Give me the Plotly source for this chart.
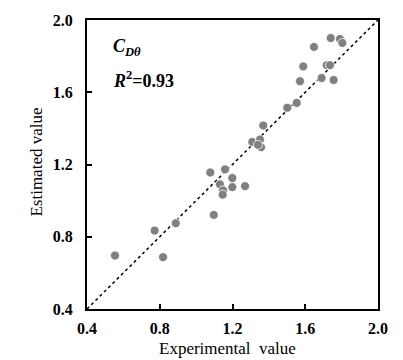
import plotly.graph_objects as go

experimental = [1.740, 1.791, 1.804, 1.648, 1.589, 1.718, 1.736, 1.690, 1.756, 1.571,
                1.553, 1.501, 1.369, 1.309, 1.351, 1.357, 1.340, 1.078, 1.159, 1.199,
                1.131, 1.199, 1.269, 1.148, 1.146, 1.097, 0.888, 0.772, 0.554, 0.818]
estimated = [1.900, 1.895, 1.873, 1.851, 1.743, 1.750, 1.750, 1.679, 1.668, 1.661,
             1.541, 1.514, 1.416, 1.325, 1.338, 1.296, 1.309, 1.156, 1.173, 1.125,
             1.090, 1.075, 1.080, 1.057, 1.033, 0.921, 0.875, 0.834, 0.696, 0.687]
line_xy = [0.4, 2.0]
tick_vals = [0.4, 0.8, 1.2, 1.6, 2.0]

fig = go.Figure()
fig.add_trace(go.Scatter(x=line_xy, y=line_xy, mode="lines",
                         line=dict(color="black", width=1.5, dash="dot"),
                         showlegend=False, hoverinfo="skip"))
fig.add_trace(go.Scatter(x=experimental, y=estimated, mode="markers",
                         marker=dict(size=9, color="#808080",
                                     line=dict(color="white", width=0.8)),
                         showlegend=False))

serif = "Liberation Serif"
axis_common = dict(range=[0.4, 2.0], tickvals=tick_vals,
                   ticktext=["<b>%.1f</b>" % v for v in tick_vals],
                   showgrid=False, zeroline=False, showline=True, mirror=True,
                   linecolor="black", linewidth=2, ticks="inside", ticklen=5,
                   tickwidth=1.5, tickcolor="black",
                   tickfont=dict(family=serif, size=16, color="black"))

fig.update_layout(
    width=403, height=360,
    margin=dict(l=87, r=25, t=15, b=51),
    plot_bgcolor="white", paper_bgcolor="white",
    xaxis=dict(**axis_common, ticklabelstandoff=4),
    yaxis=dict(**axis_common, ticklabelstandoff=9),
    annotations=[
        dict(x=0.483, y=-0.136, xref="paper", yref="paper", xanchor="center",
             yanchor="middle", text="Experimental&nbsp;&nbsp;value", showarrow=False,
             font=dict(family=serif, size=17, color="black")),
        dict(x=-0.175, y=0.507, xref="paper", yref="paper", xanchor="center",
             yanchor="middle", text="Estimated value", textangle=-90, showarrow=False,
             font=dict(family=serif, size=17, color="black")),
        dict(x=0.53, y=1.848, xref="x", yref="y", xanchor="left", yanchor="middle",
             text="<b><i>C<sub>Dθ</sub></i></b>", showarrow=False,
             font=dict(family=serif, size=18, color="black")),
        dict(x=0.53, y=1.673, xref="x", yref="y", xanchor="left", yanchor="middle",
             text="<b><i>R</i><sup>2</sup>=0.93</b>", showarrow=False,
             font=dict(family=serif, size=18, color="black")),
    ],
)

fig.write_html("out.html")
